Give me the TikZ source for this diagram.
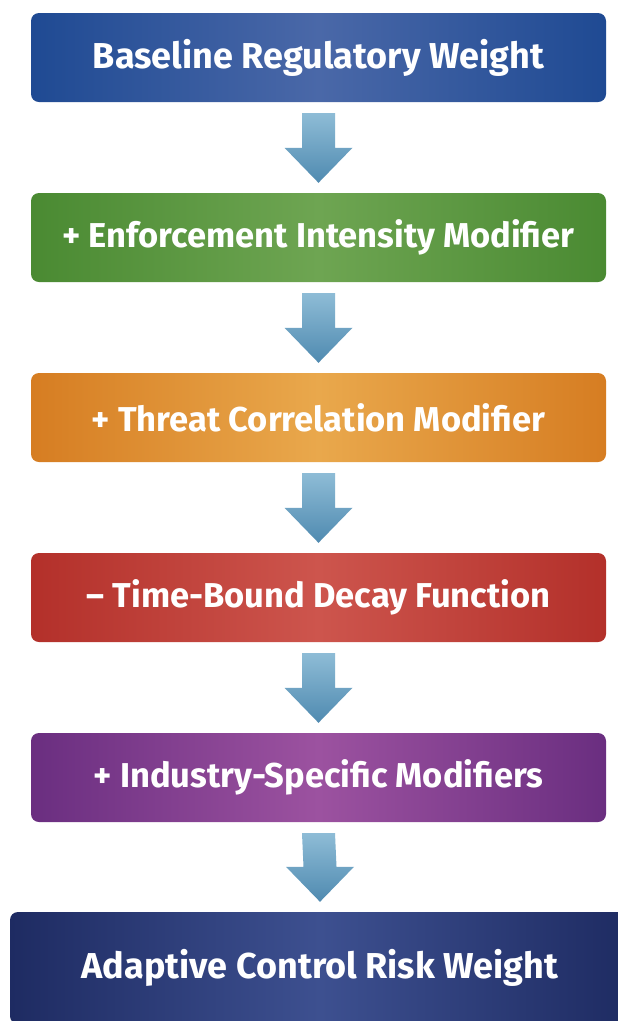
\documentclass[tikz,border=0pt]{standalone}
\usepackage{fontspec}
\newfontfamily\boxfont{Fira Sans}
\usetikzlibrary{calc}
\definecolor{blueE}{HTML}{1F4A93}
\definecolor{blueM}{HTML}{4A68A8}
\definecolor{greenE}{HTML}{4A8A32}
\definecolor{greenM}{HTML}{6EA552}
\definecolor{orangeE}{HTML}{D67D22}
\definecolor{orangeM}{HTML}{E9A84C}
\definecolor{redE}{HTML}{B3302A}
\definecolor{redM}{HTML}{CD554D}
\definecolor{purpleE}{HTML}{6A2E80}
\definecolor{purpleM}{HTML}{9C52A0}
\definecolor{navyE}{HTML}{1E2B62}
\definecolor{navyM}{HTML}{3D5090}
\definecolor{arrowtop}{HTML}{8EBCD6}
\definecolor{arrowbot}{HTML}{4F8AB0}
\newcommand\flowdown[2]{%
  \path[flowarrow] ($(#1.south)+(-16.5,-11)$) -- ($(#1.south)+(16.5,-11)$)
    -- ($(#2.north)+(16.5,45)$) -- ($(#2.north)+(34,45)$)
    -- ($(#2.north)+(0,10)$)
    -- ($(#2.north)+(-34,45)$) -- ($(#2.north)+(-16.5,45)$) -- cycle;}
\begin{document}
\begin{tikzpicture}[x=1pt,y=1pt,
  stagebox/.style={rounded corners=8pt, minimum width=575pt, minimum height=89pt,
    inner sep=0pt, text=white, font=\boxfont\bfseries\fontsize{34.5}{40}\selectfont},
  bigtext/.style={font=\boxfont\bfseries\fontsize{36}{42}\selectfont},
  shade3/.style n args={2}{left color=#1, right color=#1, middle color=#2},
  flowarrow/.style={top color=arrowtop, bottom color=arrowbot, draw=none}]
\useasboundingbox (0,0) rectangle (618,-1021);
\fill[white] (0,0) rectangle (618,-1021);
\node[stagebox, bigtext, shade3={blueE}{blueM}] (b1) at (318.5,-57.5) {Baseline Regulatory Weight};
\node[stagebox, shade3={greenE}{greenM}] (b2) at (318.5,-237.5) {+ Enforcement Intensity Modifier};
\node[stagebox, shade3={orangeE}{orangeM}] (b3) at (318.5,-417.5) {+ Threat Correlation Modifier};
\node[stagebox, shade3={redE}{redM}] (b4) at (318.5,-597.5) {\textendash{} Time-Bound Decay Function};
\node[stagebox, shade3={purpleE}{purpleM}] (b5) at (318.5,-777.5) {+ Industry-Specific Modifiers};
\node[stagebox, bigtext, shade3={navyE}{navyM}, minimum width=620pt, minimum height=112pt] (b6) at (320,-968) {Adaptive Control Risk Weight};
\flowdown{b1}{b2}
\flowdown{b2}{b3}
\flowdown{b3}{b4}
\flowdown{b4}{b5}
\flowdown{b5}{b6}
\end{tikzpicture}
\end{document}
